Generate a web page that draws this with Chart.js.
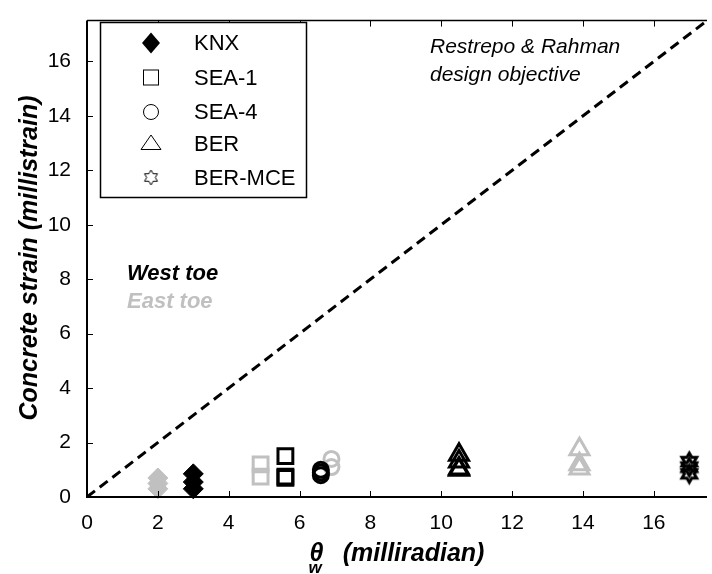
<!DOCTYPE html>
<html>
<head>
<meta charset="utf-8">
<script src="https://cdn.jsdelivr.net/npm/chart.js@4.4.1/dist/chart.umd.min.js"></script>
<style>
  html, body { margin: 0; padding: 0; background: #fff; overflow: hidden; }
  #wrap { width: 721px; height: 574px; }
</style>
</head>
<body>
<div id="wrap"><canvas id="strainChart" width="721" height="574"></canvas></div>
<script>
// Specimens (legend order)
const specimens = ['KNX', 'SEA-1', 'SEA-4', 'BER', 'BER-MCE'];

// wall rotation theta_w (milliradian) for each specimen, west and east toe
const thetaWest = [3.0, 5.6, 6.6, 10.5, 17.0];
const thetaEast = [2.0, 4.9, 6.9, 13.9, 17.0];

// concrete strain (millistrain) read at each rotation
const strainWest = [
  [0.85, 0.55, 0.3],
  [1.5, 0.75, 0.7],
  [1.0, 0.9, 0.8],
  [1.55, 1.3, 1.05, 1.0],
  [1.3, 1.1, 0.85]
];
const strainEast = [
  [0.7, 0.5, 0.3],
  [1.2, 0.75],
  [1.4, 1.1],
  [1.75, 1.2, 1.05],
  [1.05]
];

// Restrepo & Rahman design objective line
const objectiveX = [0, 17.5];
const objectiveY = [0, 17.5];

const xTicks = [0, 2, 4, 6, 8, 10, 12, 14, 16];
const yTicks = [0, 2, 4, 6, 8, 10, 12, 14, 16];
const axisMax = 17.5;

const FONT = "'Liberation Sans', Arial, sans-serif";
const BLACK = '#000000';
const GRAY = '#c0c0c0';

// six point star drawn onto a small canvas, used as pointStyle
function hexagram(color, R, lw) {
  const s = Math.ceil(2 * R + 2 * lw + 2);
  const c = document.createElement('canvas');
  c.width = s; c.height = s;
  const g = c.getContext('2d');
  g.strokeStyle = color;
  g.lineWidth = lw;
  g.beginPath();
  for (let i = 0; i < 12; i++) {
    const a = -Math.PI / 2 + i * Math.PI / 6;
    const r = i % 2 === 0 ? R : R / Math.sqrt(3);
    const px = s / 2 + r * Math.cos(a), py = s / 2 + r * Math.sin(a);
    if (i === 0) g.moveTo(px, py); else g.lineTo(px, py);
  }
  g.closePath();
  g.stroke();
  return c;
}

const markerStyles = [
  { pointStyle: 'rectRot', radius: 10, filled: true, bw: 1 },
  { pointStyle: 'rect', radius: 10.5, filled: false, bw: 3 },
  { pointStyle: 'circle', radius: 7.5, filled: false, bw: 3 },
  { pointStyle: 'triangle', radius: 11, filled: false, bw: 3 },
  { pointStyle: null, radius: 9, filled: false, bw: 3 }
];

function makeDataset(i, xs, ys, color, order) {
  const m = markerStyles[i];
  const style = m.pointStyle || hexagram(color, 8.5, 3);
  return {
    label: specimens[i],
    data: ys[i].map(v => ({ x: xs[i], y: v })),
    pointStyle: style,
    pointRadius: m.radius,
    pointHoverRadius: m.radius,
    pointBorderWidth: m.bw,
    pointBorderColor: color,
    pointBackgroundColor: m.filled ? color : 'rgba(0,0,0,0)',
    clip: false,
    order: order
  };
}

const datasets = [];
specimens.forEach((s, i) => datasets.push(makeDataset(i, thetaWest, strainWest, BLACK, 1)));
specimens.forEach((s, i) => datasets.push(makeDataset(i, thetaEast, strainEast, GRAY, 2)));
datasets.push({
  type: 'line',
  label: 'objective',
  data: objectiveX.map((x, i) => ({ x: x, y: objectiveY[i] })),
  borderColor: BLACK,
  borderWidth: 3,
  borderDash: [10, 6],
  pointRadius: 0,
  fill: false,
  order: 3
});

// axes box, inward ticks, titles, legend and notes
const decorations = {
  id: 'decorations',
  afterDraw(chart) {
    const ctx = chart.ctx;
    const a = chart.chartArea;
    const xs = chart.scales.x, ys = chart.scales.y;
    ctx.save();

    // ticks pointing inward
    ctx.strokeStyle = BLACK;
    ctx.lineWidth = 1;
    ctx.beginPath();
    xTicks.forEach(t => {
      const px = Math.round(xs.getPixelForValue(t)) + 0.5;
      ctx.moveTo(px, a.bottom); ctx.lineTo(px, a.bottom - 6);
      ctx.moveTo(px, a.top); ctx.lineTo(px, a.top + 6);
    });
    yTicks.forEach(t => {
      const py = Math.round(ys.getPixelForValue(t)) + 0.5;
      ctx.moveTo(a.left, py); ctx.lineTo(a.left + 6, py);
    });
    ctx.stroke();

    // axis lines
    ctx.lineWidth = 2;
    ctx.beginPath();
    ctx.moveTo(a.left, a.top); ctx.lineTo(a.left, a.bottom + 1);
    ctx.moveTo(a.left - 1, a.bottom); ctx.lineTo(a.right, a.bottom);
    ctx.stroke();
    ctx.lineWidth = 1.5;
    ctx.beginPath();
    ctx.moveTo(a.left, a.top); ctx.lineTo(a.right, a.top);
    ctx.stroke();

    // y title
    ctx.fillStyle = BLACK;
    ctx.font = `italic bold 25px ${FONT}`;
    ctx.textAlign = 'center';
    ctx.textBaseline = 'middle';
    ctx.translate(30, 258);
    ctx.rotate(-Math.PI / 2);
    ctx.fillText('Concrete strain (millistrain)', 0, 0);
    ctx.setTransform(1, 0, 0, 1, 0, 0);

    // x title with subscript
    const main = `italic bold 25px ${FONT}`;
    const sub = `italic bold 17px ${FONT}`;
    ctx.font = main;
    const wTheta = ctx.measureText('\u03b8').width;
    const wRest = ctx.measureText('  (milliradian)').width;
    ctx.font = sub;
    const wSub = ctx.measureText('w').width;
    const total = wTheta + wSub * 0.4 + wRest;
    let x0 = (a.left + a.right) / 2 - total / 2;
    ctx.textAlign = 'left';
    ctx.textBaseline = 'alphabetic';
    ctx.font = main;
    ctx.fillText('\u03b8', x0, 561);
    ctx.font = sub;
    ctx.fillText('w', x0 - 1, 573);
    ctx.font = main;
    ctx.fillText('  (milliradian)', x0 + wTheta + wSub * 0.4, 561);

    // legend box
    const lb = { x: 100.5, y: 22.5, w: 206, h: 175 };
    ctx.fillStyle = '#ffffff';
    ctx.fillRect(lb.x, lb.y, lb.w, lb.h);
    ctx.strokeStyle = BLACK;
    ctx.lineWidth = 1.5;
    ctx.strokeRect(lb.x, lb.y, lb.w, lb.h);

    const rowY = [43, 77.5, 112, 144, 177.5];
    const mx = 151;
    ctx.lineWidth = 1;
    ctx.fillStyle = BLACK;
    // diamond
    ctx.beginPath();
    ctx.moveTo(mx, rowY[0] - 10.5); ctx.lineTo(mx + 9, rowY[0]);
    ctx.lineTo(mx, rowY[0] + 10.5); ctx.lineTo(mx - 9, rowY[0]);
    ctx.closePath(); ctx.fill();
    // square
    ctx.strokeRect(mx - 7.5, rowY[1] - 7.5, 15, 15);
    // circle
    ctx.beginPath(); ctx.arc(mx, rowY[2], 7.5, 0, Math.PI * 2); ctx.stroke();
    // triangle
    ctx.beginPath();
    ctx.moveTo(mx, rowY[3] - 9); ctx.lineTo(mx + 10, rowY[3] + 5.5);
    ctx.lineTo(mx - 10, rowY[3] + 5.5); ctx.closePath(); ctx.stroke();
    // hexagram
    const hx = hexagram(BLACK, 7.5, 1);
    ctx.drawImage(hx, mx - hx.width / 2, rowY[4] - hx.height / 2);

    ctx.font = `22px ${FONT}`;
    ctx.textAlign = 'left';
    ctx.textBaseline = 'middle';
    specimens.forEach((s, i) => ctx.fillText(s, 194, rowY[i] + 1));

    // notes
    ctx.font = `italic 21px ${FONT}`;
    ctx.fillText('Restrepo & Rahman', 430, 47);
    ctx.fillText('design objective', 430, 75);

    ctx.font = `italic bold 22px ${FONT}`;
    ctx.fillText('West toe', 127, 274);
    ctx.fillStyle = GRAY;
    ctx.fillText('East toe', 127, 302);

    ctx.restore();
  }
};

const ctx = document.getElementById('strainChart').getContext('2d');
new Chart(ctx, {
  type: 'scatter',
  data: { datasets },
  options: {
    responsive: false,
    animation: false,
    devicePixelRatio: 1,
    layout: { padding: { top: 10, left: 0, right: 0, bottom: 0 } },
    plugins: {
      legend: { display: false },
      tooltip: { enabled: false }
    },
    scales: {
      x: {
        type: 'linear',
        min: 0,
        max: axisMax,
        grid: { display: false },
        border: { display: false },
        ticks: {
          stepSize: 2,
          includeBounds: false,
          autoSkip: false,
          maxRotation: 0,
          padding: 6,
          color: BLACK,
          font: { family: FONT, size: 21 }
        },
        afterFit(scale) { scale.height = 77; }
      },
      y: {
        type: 'linear',
        min: 0,
        max: axisMax,
        grid: { display: false },
        border: { display: false },
        ticks: {
          stepSize: 2,
          includeBounds: false,
          autoSkip: false,
          padding: 8,
          color: BLACK,
          font: { family: FONT, size: 21 }
        },
        afterFit(scale) { scale.width = 87; }
      }
    }
  },
  plugins: [decorations]
});
</script>
</body>
</html>
